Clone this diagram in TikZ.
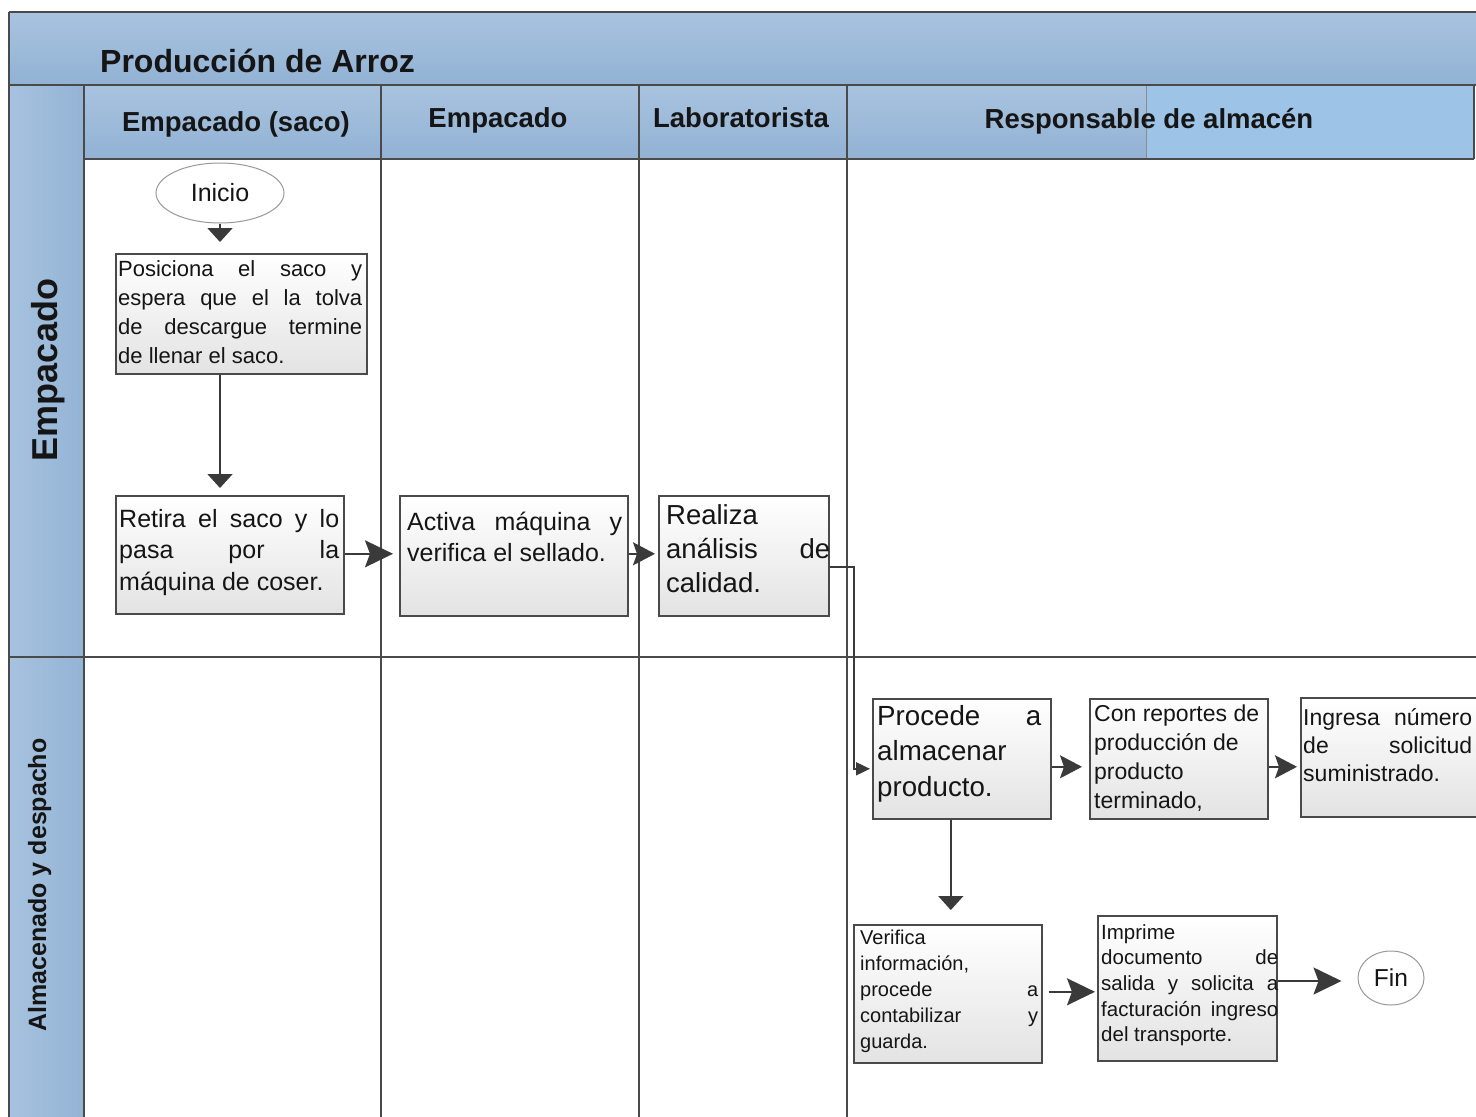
\documentclass[tikz,border=0pt]{standalone}
\usepackage{fontspec}
\setmainfont{Liberation Sans}
\usetikzlibrary{arrows.meta,shapes.geometric,calc}
\definecolor{hdrtop}{HTML}{A8C3DF}
\definecolor{hdrbot}{HTML}{92B2D4}
\definecolor{hdrlight}{HTML}{9DC3E6}
\definecolor{lanel}{HTML}{A6C2DE}
\definecolor{laner}{HTML}{94B4D6}
\definecolor{edge}{HTML}{4A4A4A}
\definecolor{ink}{HTML}{3A3A3A}
\definecolor{txtc}{HTML}{151515}
\newcommand{\jline}[2]{\makebox[#1][s]{#2}}
\begin{document}
\begin{tikzpicture}[x=1pt,y=-1pt,
  grid/.style={draw=edge,line width=1.8pt},
  box/.style={draw=edge,line width=1.6pt,top color=white,bottom color=black!11,anchor=north west,inner sep=0pt},
  txt/.style={inner sep=0pt,anchor=base west,text=txtc},
  hdr/.style={inner sep=0pt,anchor=base,text=txtc,font=\fontsize{27.5}{32}\selectfont\bfseries},
  term/.style={ellipse,draw=black!40,line width=1pt,fill=white,inner sep=0pt,text=txtc},
  conn/.style={draw=ink,line width=1.8pt},
  smallhead/.style={-{Triangle[length=14pt,width=25pt]},color=ink},
  tinyhead/.style={-{Triangle[length=14pt,width=13pt]},color=ink},
  midhead/.style={-{Stealth[length=22pt,width=23pt,inset=4pt]},color=ink},
  bighead/.style={-{Stealth[length=28pt,width=27pt,inset=5pt]},color=ink}
]
\useasboundingbox (0,0) rectangle (1476,1117);
\fill[white] (0,0) rectangle (1476,1117);
% bands
\shade[top color=hdrtop,bottom color=hdrbot] (9,12) rectangle (1480,85);
\shade[left color=lanel,right color=laner] (9,85) rectangle (84,1117);
\shade[top color=hdrtop,bottom color=hdrbot] (84,85) rectangle (1474,159);
\fill[hdrlight] (1146,86) rectangle (1474,158);
\draw[black!45,line width=0.8pt] (1146,86) -- (1146,159);
% grid lines
\draw[grid] (9,12) -- (1480,12);
\draw[grid] (9,12) -- (9,1117);
\draw[grid] (9,85) -- (1480,85);
\draw[grid] (84,85) -- (84,1117);
\draw[grid] (381,85) -- (381,1117);
\draw[grid,line width=2.4pt] (639,85) -- (639,1117);
\draw[grid] (847,85) -- (847,1117);
\draw[grid] (1474,85) -- (1474,159);
\draw[grid] (84,159) -- (1474,159);
\draw[grid] (9,657) -- (1480,657);
% titles
\node[txt,font=\fontsize{32}{36}\selectfont\bfseries] (title) at (100,72) {Producción de Arroz};
\node[hdr] (h1) at (236,131) {Empacado (saco)};
\node[hdr] (h2) at (498,127) {Empacado};
\node[hdr] (h3) at (741,127) {Laboratorista};
\node[hdr] (h4) at (1149,128) {Responsable de almacén};
\node[inner sep=0pt,anchor=base,rotate=90,text=txtc,font=\fontsize{36}{40}\selectfont\bfseries] (l1) at (57,370) {Empacado};
\node[inner sep=0pt,anchor=base,rotate=90,text=txtc,font=\fontsize{25}{29}\selectfont\bfseries] (l2) at (46,885) {Almacenado y despacho};
% terminals
\node[term,minimum width=128pt,minimum height=60pt,font=\fontsize{25}{29}\selectfont] (inicio) at (220,193) {Inicio};
\node[term,minimum width=66pt,minimum height=54pt,font=\fontsize{24.5}{29}\selectfont] (fin) at (1391,978) {Fin};
% boxes
\node[box,minimum width=251pt,minimum height=120pt] (b1) at (115,253) {};
\node[box,minimum width=228pt,minimum height=118pt] (b2) at (115,495) {};
\node[box,minimum width=228pt,minimum height=120pt] (b3) at (399,495) {};
\node[box,minimum width=170pt,minimum height=120pt] (b4) at (658,495) {};
\node[box,minimum width=178pt,minimum height=120pt] (b5) at (872,698) {};
\node[box,minimum width=178pt,minimum height=120pt] (b6) at (1089,698) {};
\node[box,minimum width=182pt,minimum height=119pt] (b7) at (1300,697) {};
\node[box,minimum width=188pt,minimum height=138pt] (b8) at (853,924) {};
\node[box,minimum width=179pt,minimum height=145pt] (b9) at (1097,915) {};
% box texts
\node[txt,font=\fontsize{22}{29.2}\selectfont] (t1) at (118,276) {\parbox[t]{244pt}{\jline{244pt}{Posiciona el saco y}\\\jline{244pt}{espera que el la tolva}\\\jline{244pt}{de descargue termine}\\de llenar el saco.}};
\node[txt,font=\fontsize{25}{31.5}\selectfont] (t2) at (119,527) {\parbox[t]{220pt}{\jline{220pt}{Retira el saco y lo}\\\jline{220pt}{pasa por la}\\máquina de coser.}};
\node[txt,font=\fontsize{25}{31}\selectfont] (t3) at (407,530) {\parbox[t]{215pt}{\jline{215pt}{Activa máquina y}\\verifica el sellado.}};
\node[txt,font=\fontsize{27.5}{34}\selectfont] (t4) at (666,524) {\parbox[t]{164pt}{Realiza\\\jline{164pt}{análisis de}\\calidad.}};
\node[txt,font=\fontsize{27.7}{35.5}\selectfont] (t5) at (877,725) {\parbox[t]{164pt}{\jline{164pt}{Procede a}\\almacenar\\producto.}};
\node[txt,font=\fontsize{23}{29}\selectfont] (t6) at (1094,721) {\parbox[t]{170pt}{Con reportes de\\producción de\\producto\\terminado,}};
\node[txt,font=\fontsize{23}{28}\selectfont] (t7) at (1303,725) {\parbox[t]{169pt}{\jline{169pt}{Ingresa número}\\\jline{169pt}{de solicitud}\\suministrado.}};
\node[txt,font=\fontsize{20}{26}\selectfont] (t8) at (860,944) {\parbox[t]{178pt}{Verifica\\información,\\\jline{178pt}{procede a}\\\jline{178pt}{contabilizar y}\\guarda.}};
\node[txt,font=\fontsize{20.5}{25.7}\selectfont] (t9) at (1101,939) {\parbox[t]{177pt}{Imprime\\\jline{177pt}{documento de}\\\jline{177pt}{salida y solicita a}\\\jline{177pt}{facturación ingreso}\\del transporte.}};
% connectors
\draw[conn,smallhead] (inicio.south) -- ($(b1.north -| inicio.south)+(0,-11)$);
\draw[conn,smallhead] (b1.south -| inicio.south) -- ($(b2.north -| inicio.south)+(0,-7)$);
\draw[conn,bighead] ($(b2.east)+(0,-1)$) -- ($(b2.east -| b3.west)+(-6,-1)$);
\draw[conn,midhead] ($(b3.east)+(0,-2)$) -- ($(b3.east -| b4.west)+(-3,-2)$);
\draw[conn,tinyhead] ($(b4.east)+(0,11)$) -- ++(24,0) |- ($(b5.west)+(-2,10)$);
\draw[conn,midhead] ($(b5.east)+(0,8)$) -- ($(b5.east -| b6.west)+(-7,8)$);
\draw[conn,midhead] ($(b6.east)+(0,8)$) -- ($(b6.east -| b7.west)+(-3,8)$);
\draw[conn,smallhead] ($(b5.south -| b8.north)+(3,0)$) -- ($(b8.north)+(3,-14)$);
\draw[conn,bighead] ($(b8.east)+(6,-2)$) -- ($(b8.east -| b9.west)+(-2,-2)$);
\draw[conn,bighead] ($(b9.east |- fin.west)+(0,3)$) -- ($(fin.west)+(-16,3)$);
\end{tikzpicture}
\end{document}
